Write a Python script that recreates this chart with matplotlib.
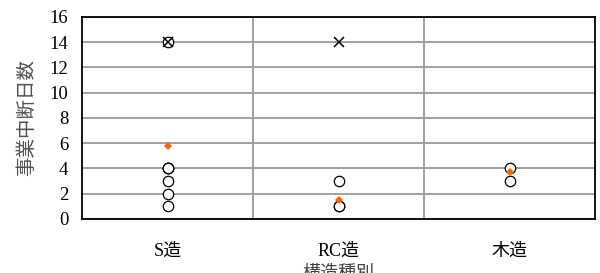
import matplotlib
matplotlib.use("Agg")
import matplotlib.pyplot as plt

categories = ["S造", "RC造", "木造"]
# individual observations (open circles)
obs_S = [1, 2, 3, 4, 4, 4, 14]
obs_RC = [1, 1, 3]
obs_W = [3, 4]
# average (orange diamond)
avg_vals = [5.8, 1.5, 3.7]
# cross marker series
cross_cats = [0, 1]
cross_vals = [14, 14]

fig = plt.figure(figsize=(6.0, 2.73), dpi=100)
ax = fig.add_axes([0.137, 0.198, 0.855, 0.74])

pos = [0.5, 1.5, 2.5]
for p, obs in zip(pos, [obs_S, obs_RC, obs_W]):
    ax.plot([p] * len(obs), obs, linestyle="none", marker="o", markersize=7.5,
            markerfacecolor="white", markeredgecolor="black", markeredgewidth=0.9, zorder=3)
ax.plot([pos[i] for i in cross_cats], cross_vals, linestyle="none", marker="x",
        markersize=7.5, color="black", markeredgewidth=1.1, zorder=4)
ax.plot(pos, avg_vals, linestyle="none", marker="D", markersize=4,
        color="#ff6600", markeredgewidth=0, zorder=5)

ax.set_xlim(0, 3)
ax.set_ylim(0, 16)
ax.set_yticks(range(0, 17, 2))
ax.set_xticks(pos)
ax.set_xticks([1, 2], minor=True)
ax.set_xticklabels(categories, family=["Liberation Serif", "Noto Sans CJK JP"], fontsize=13)
for lab in ax.get_yticklabels():
    lab.set_family("Liberation Serif")
    lab.set_fontsize(13.5)
ax.tick_params(axis="both", which="both", length=0)
ax.tick_params(axis="x", pad=17)
ax.tick_params(axis="y", pad=10)
ax.grid(axis="y", which="major", color="#a0a0a0", linewidth=1.4)
ax.grid(axis="x", which="minor", color="#a0a0a0", linewidth=1.4)
ax.set_axisbelow(True)
for s in ax.spines.values():
    s.set_linewidth(1.3)
    s.set_color("black")

ax.set_ylabel("事業中断日数", family=["Noto Sans CJK JP"], fontsize=14, color="#505050", labelpad=9)
fig.text(0.565, 0.0, "構造種別", family=["Noto Sans CJK JP"], fontsize=13, color="#404040",
         ha="center", va="center")

fig.savefig("out.png", dpi=100)
